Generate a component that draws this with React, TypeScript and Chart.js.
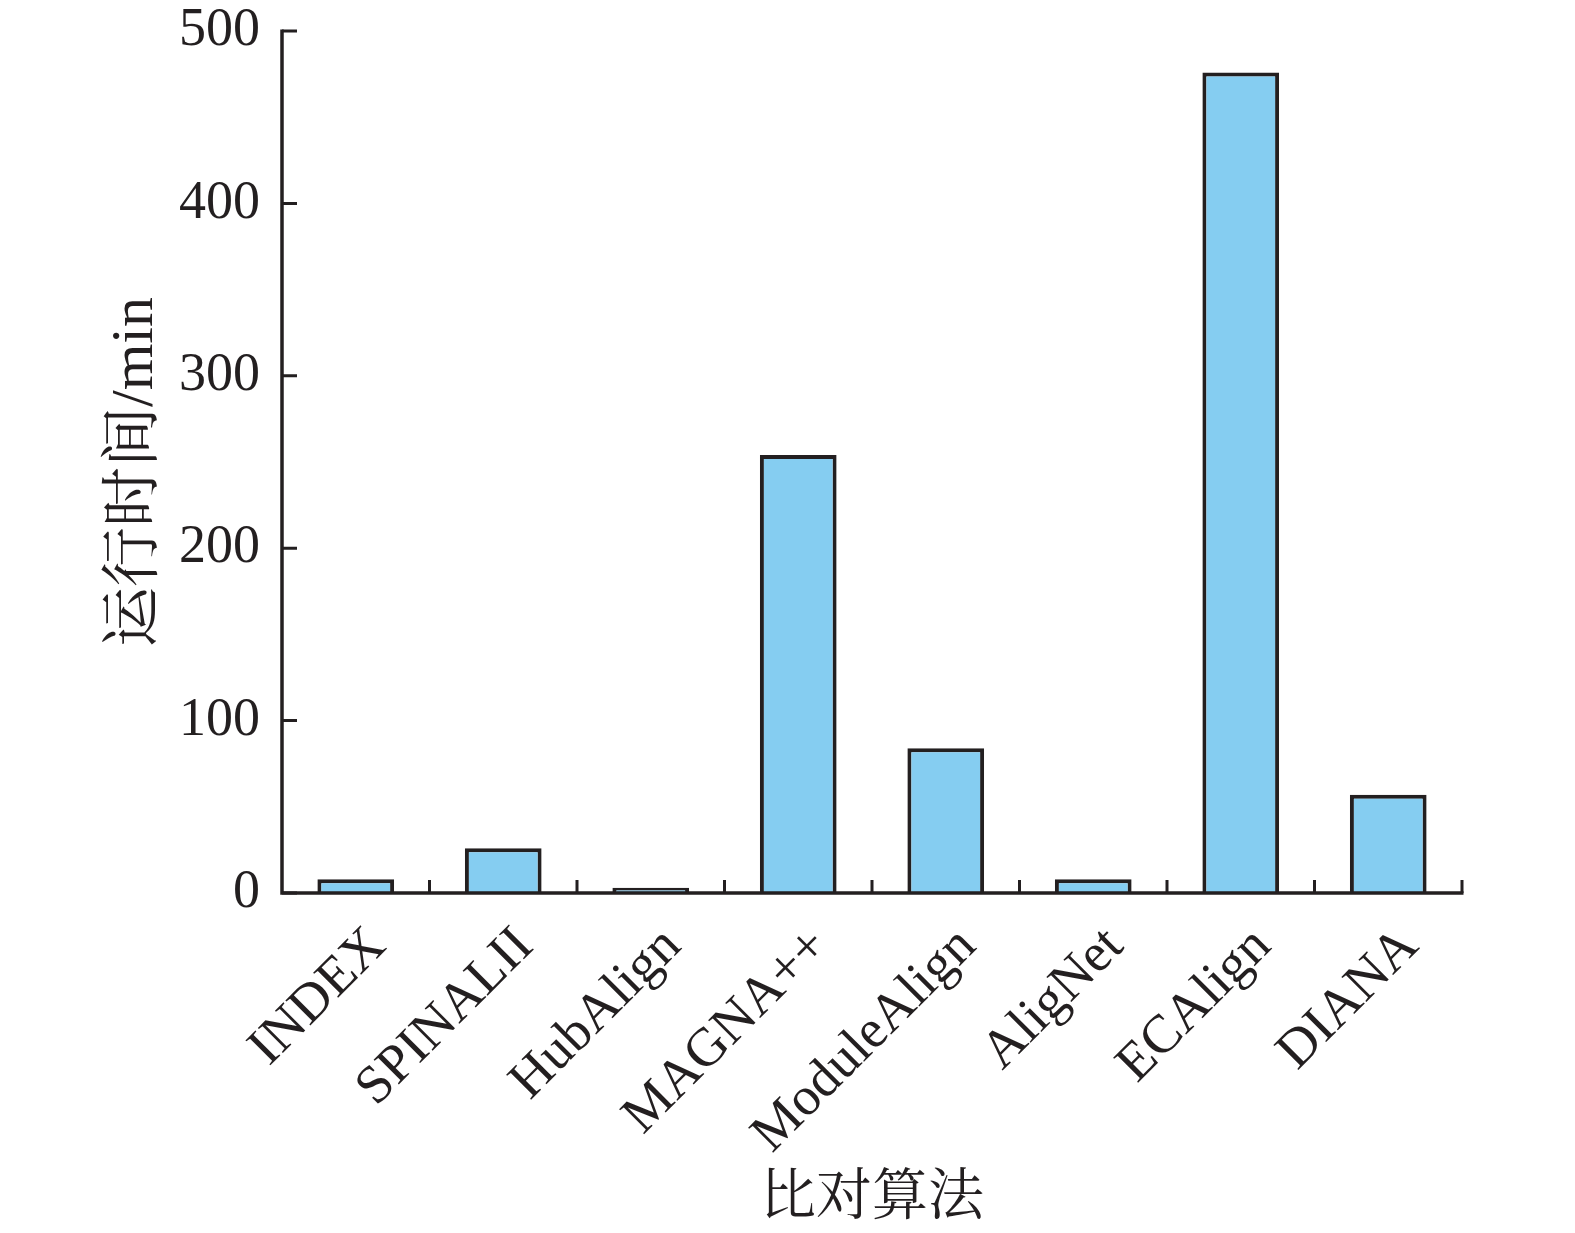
import React, { useEffect, useRef } from "react";
import { Chart, registerables } from "chart.js";

Chart.register(...registerables);

const categories = ["INDEX", "SPINALII", "HubAlign", "MAGNA++", "ModuleAlign", "AligNet", "ECAlign", "DIANA"];
const runTimes = [8, 26, 3, 254, 84, 8, 476, 57];
const yTickValues = [0, 100, 200, 300, 400, 500];
const xTitle = "比对算法";
const yTitle = "运行时间/min\u2004";

const INK = "#231F20";
const FILL = "#85CDF1";
const SERIF = '"Liberation Serif", "Times New Roman", serif';
const MIXED = '"Liberation Serif", "Noto Serif CJK SC", "Noto Sans CJK SC", serif';

const axisPlugin = {
  id: "axisInnerTicks",
  afterDraw(chart: any) {
    const { ctx, chartArea, scales } = chart;
    const xs = scales.x;
    const ys = scales.y;
    ctx.save();
    ctx.strokeStyle = INK;
    ctx.lineCap = "butt";
    ctx.lineWidth = 3.5;
    ctx.beginPath();
    ctx.moveTo(chartArea.left, chartArea.top - 1.5);
    ctx.lineTo(chartArea.left, chartArea.bottom + 1.75);
    ctx.moveTo(chartArea.left - 1.75, chartArea.bottom);
    ctx.lineTo(chartArea.right + 1.5, chartArea.bottom);
    ctx.stroke();
    ctx.lineWidth = 3;
    ctx.beginPath();
    ys.ticks.forEach((t: any) => {
      const py = ys.getPixelForValue(t.value);
      ctx.moveTo(chartArea.left, py);
      ctx.lineTo(chartArea.left + 15, py);
    });
    const half = (xs.getPixelForValue(1) - xs.getPixelForValue(0)) / 2;
    for (let i = 0; i < categories.length; i++) {
      const px = xs.getPixelForValue(i) + half;
      ctx.moveTo(px, chartArea.bottom);
      ctx.lineTo(px, chartArea.bottom - 13);
    }
    ctx.stroke();
    ctx.restore();
  },
};

export default function App() {
  const ref = useRef<HTMLCanvasElement | null>(null);
  useEffect(() => {
    if (!ref.current) return;
    const chart = new Chart(ref.current, {
      type: "bar",
      data: {
        labels: categories,
        datasets: [
          {
            data: runTimes,
            backgroundColor: FILL,
            borderColor: INK,
            borderWidth: 4,
            barPercentage: 0.52,
            categoryPercentage: 1,
          },
        ],
      },
      options: {
        responsive: false,
        animation: false,
        layout: { padding: { top: 31, right: 113, left: 0, bottom: 0 } },
        plugins: { legend: { display: false }, tooltip: { enabled: false } },
        scales: {
          x: {
            offset: true,
            grid: { display: false, drawTicks: false },
            border: { display: false },
            ticks: {
              color: INK,
              font: { family: SERIF, size: 54 },
              minRotation: 45,
              maxRotation: 45,
              autoSkip: false,
              padding: 22,
              labelOffset: 22,
            },
            title: {
              display: true,
              text: xTitle,
              color: INK,
              font: { family: MIXED, size: 56 },
              padding: { top: 0, bottom: 0 },
            },
            afterFit(scale: any) {
              scale.height = 340;
              scale.paddingLeft = 0;
              scale.paddingRight = 0;
            },
          },
          y: {
            min: 0,
            max: 500,
            grid: { display: false, drawTicks: false },
            border: { display: false },
            afterBuildTicks(scale: any) {
              scale.ticks = yTickValues.map((v) => ({ value: v }));
            },
            ticks: {
              color: INK,
              font: { family: SERIF, size: 54 },
              padding: 22,
            },
            title: {
              display: true,
              text: yTitle,
              color: INK,
              font: { family: MIXED, size: 60 },
              padding: { top: 100, bottom: 0 },
            },
            afterFit(scale: any) {
              scale.width = 282;
              scale.paddingTop = 0;
              scale.paddingBottom = 0;
            },
          },
        },
      },
      plugins: [axisPlugin],
    });
    return () => chart.destroy();
  }, []);
  return (
    <div style={{ position: "absolute", left: 0, top: 0, width: 1575, height: 1233, background: "#fff" }}>
      <canvas ref={ref} width={1575} height={1233} style={{ display: "block" }} />
    </div>
  );
}
